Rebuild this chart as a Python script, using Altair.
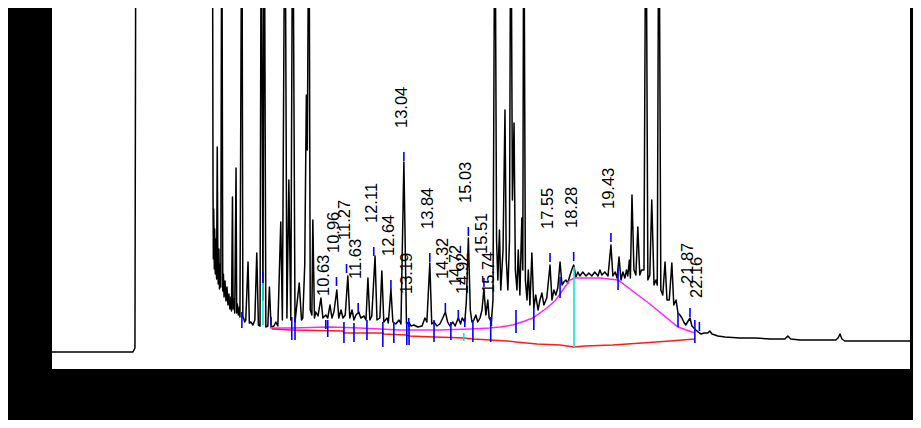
import altair as alt
import pandas as pd

# ---- chromatogram trace (retention time in min, detector signal in arbitrary units) ----
trace_time = [2.18, 4.68, 4.74, 4.77,
              7.11, 7.13, 7.15, 7.16, 7.17, 7.19, 7.20, 7.22, 7.24, 7.26, 7.28, 7.30, 7.31, 7.33, 7.35, 7.37, 7.39,
              7.42, 7.45, 7.47, 7.49, 7.52, 7.55, 7.58, 7.61, 7.64, 7.67, 7.70, 7.72, 7.75, 7.77, 7.79, 7.82, 7.86,
              7.88, 7.90, 7.93, 7.96, 7.98, 8.04, 8.07, 8.09,
              8.13, 8.16, 8.23, 8.27, 8.32, 8.38, 8.44, 8.50, 8.55, 8.60, 8.64,
              8.69, 8.73, 8.78, 8.84, 8.89, 8.94, 9.03, 9.09, 9.15, 9.24, 9.29, 9.37, 9.43, 9.49, 9.55, 9.61, 9.68, 9.81,
              9.88, 9.92, 9.98, 10.03, 10.06, 10.11, 10.15, 10.20, 10.23, 10.28, 10.32, 10.39, 10.48, 10.54, 10.63, 10.69,
              10.76, 10.82, 10.88, 10.97, 11.03, 11.10, 11.16, 11.23, 11.31, 11.37, 11.44, 11.50, 11.56, 11.65, 11.71,
              11.81, 11.87, 11.93, 11.99, 12.05, 12.15, 12.21, 12.30, 12.36, 12.42, 12.52, 12.56, 12.64, 12.70, 12.79,
              12.89, 12.95, 13.04, 13.12, 13.19, 13.26, 13.35, 13.47, 13.60, 13.69, 13.75, 13.84, 13.90, 13.97, 14.06,
              14.15, 14.24, 14.32, 14.39, 14.46, 14.55, 14.62, 14.72, 14.79, 14.84, 14.92, 14.97, 15.03, 15.09, 15.14,
              15.20, 15.26, 15.32, 15.39, 15.45, 15.51, 15.57, 15.63, 15.67, 15.74, 15.79, 15.85, 15.90, 15.94, 15.99,
              16.03, 16.10, 16.16, 16.20, 16.25, 16.30, 16.34, 16.39, 16.44, 16.48, 16.53, 16.57, 16.62, 16.68, 16.71,
              16.74, 16.79, 16.84, 16.88, 16.93, 16.99, 17.05, 17.11, 17.18, 17.24, 17.30, 17.36, 17.45, 17.55, 17.61,
              17.67, 17.73, 17.79, 17.86, 17.92, 17.98, 18.04, 18.10, 18.16, 18.22, 18.28, 18.35, 18.41, 18.47, 18.56,
              18.66, 18.75, 18.84, 18.93, 19.03, 19.09, 19.15, 19.24, 19.34, 19.43, 19.49, 19.56, 19.62, 19.68, 19.74,
              19.80, 19.86, 19.91, 19.95, 20.00, 20.03, 20.08, 20.14, 20.20, 20.26, 20.32, 20.37, 20.45, 20.51, 20.57,
              20.63, 20.69, 20.76, 20.82, 20.86, 20.91, 20.97, 21.03, 21.10, 21.16, 21.23, 21.31, 21.37, 21.44, 21.50,
              21.56, 21.62, 21.68, 21.74, 21.87, 21.93, 21.99, 22.05, 22.16, 22.22, 22.30, 22.42, 22.48, 22.55, 22.73,
              22.95, 23.41, 23.87, 24.34, 24.80, 24.89, 24.98, 25.26, 25.73, 26.37, 26.44, 26.50, 26.56, 26.65, 27.42,
              28.04, 28.66]
trace_signal = [17, 17, 21, 520,
                520, 520, 175, 110, 160, 100, 140, 95, 130, 90, 222, 100, 85, 120, 80, 105, 82,
                520, 78, 95, 72, 88, 68, 82, 64, 75, 60, 72, 58, 172, 60, 70, 56, 201,
                56, 65, 54, 62, 52, 520, 52, 51,
                47, 49, 107, 46, 47, 44, 49, 116, 44, 43, 520,
                69, 520, 42, 43, 82, 42, 43, 47, 43, 147, 49, 520, 51, 189, 49, 520, 47, 86,
                49, 51, 104, 274, 219, 520, 59, 54, 149, 51, 57, 53, 71, 51, 54, 51,
                64, 51, 57, 79, 51, 59, 51, 54, 93, 51, 59, 49, 54, 57, 51,
                53, 49, 91, 49, 53, 113, 49, 51, 98, 47, 51, 46, 80, 47, 45,
                49, 45, 207, 45, 47, 43, 44, 42, 43, 51, 47, 106, 45, 47, 43,
                45, 51, 57, 47, 43, 47, 43, 51, 45, 51, 47, 69, 131, 59, 47,
                49, 54, 47, 51, 59, 80, 54, 69, 51, 47, 69, 520, 129, 89, 139,
                79, 119, 259, 109, 79, 129, 520, 169, 246, 99, 79, 119, 74, 151, 99,
                520, 89, 69, 99, 64, 116, 61, 74, 59, 69, 76, 64, 71, 104, 69,
                79, 74, 81, 107, 84, 87, 89, 86, 93, 99, 104, 92, 97, 93, 97,
                93, 96, 93, 97, 93, 99, 94, 97, 93, 124, 93, 97, 91, 112, 89,
                97, 91, 99, 93, 109, 91, 174, 99, 94, 142, 94, 99, 99, 520, 89,
                94, 169, 84, 89, 84, 520, 79, 74, 107, 69, 69, 106, 64, 69, 56,
                54, 51, 47, 44, 51, 43, 41, 39, 36, 35, 36, 36, 38, 35, 33,
                32, 31, 31, 30, 30, 33, 30, 29, 29, 29, 31, 35, 30, 28, 28,
                28, 28]

# ---- integrated peaks: labels, retention times, marker heights ----
peak_labels = ["10.63", "10.96", "11.27", "11.63", "12.11", "12.64", "13.04", "13.19", "13.84", "14.32",
               "14.72", "14.92", "15.03", "15.51", "15.74", "17.55", "18.28", "19.43", "21.87", "22.16"]
peak_times = [10.63, 10.96, 11.27, 11.63, 12.11, 12.64, 13.04, 13.19, 13.84, 14.32,
              14.72, 14.92, 15.03, 15.51, 15.74, 17.55, 18.28, 19.43, 21.87, 22.16]
peak_marker = [49, 92, 105, 66, 122, 89, 217, 51, 116, 66,
               59, 51, 142, 91, 52, 116, 117, 136, 61, 47]

# ---- peak boundary markers (blue) ----
split_time = [8.04, 8.69, 8.94, 9.58, 9.68, 10.69, 11.19, 11.50, 11.90, 12.39, 12.73, 13.13, 13.20,
              13.97, 14.49, 15.17, 15.72, 16.50, 17.05, 17.86, 19.65, 21.50, 22.02]
split_top = [57, 97, 52, 52, 52, 49, 47, 46, 49, 47, 47, 47, 47, 49, 47, 49, 52, 59, 62, 92, 101, 56, 49]
split_bottom = [41, 86, 44, 29, 29, 32, 26, 27, 29, 22, 26, 24, 24, 27, 29, 27, 27, 36, 39, 71, 79, 42, 26]

# ---- drop lines (cyan) ----
drop_time = [8.69, 14.89, 18.29]
drop_top = [86, 36, 102]
drop_bottom = [44, 28, 22]

# ---- baselines ----
red_time = [8.97, 9.58, 11.16, 11.19, 12.39, 12.42, 13.13, 13.20, 13.97, 14.49, 14.89, 15.17, 15.72, 16.22,
            16.50, 17.15, 17.86, 18.29, 18.63, 19.49, 20.39, 21.25, 22.02]
red_signal = [40, 39, 38, 36, 36, 35, 34, 33, 32, 31.5, 31, 30, 29, 28, 27, 25, 24, 22, 23, 24, 26, 28, 30]

mag_time = [8.90, 9.58, 10.76, 11.68, 12.92, 14.15, 15.08, 15.69, 16.00, 16.40, 16.77, 17.02, 17.45, 17.70,
            17.86, 18.01, 18.16, 18.32, 19.09, 19.65, 20.63, 21.50, 22.02]
mag_signal = [41, 41, 42, 41, 39, 39, 40, 41, 42, 44, 48, 51, 61, 68, 75, 82, 89, 91, 91, 89, 65, 42, 36]

# ---------------------------------------------------------------------------
trace_df = pd.DataFrame({"t": trace_time, "s": trace_signal})
peaks_df = pd.DataFrame({"t": peak_times, "top": peak_marker, "label": peak_labels})
split_df = pd.DataFrame({"t": split_time, "top": split_top, "bot": split_bottom})
drop_df = pd.DataFrame({"t": drop_time, "top": drop_top, "bot": drop_bottom})
red_df = pd.DataFrame({"t": red_time, "s": red_signal})
mag_df = pd.DataFrame({"t": mag_time, "s": mag_signal})

xs = alt.Scale(domain=[2.18, 28.66], nice=False, zero=False)
ys = alt.Scale(domain=[0, 361], nice=False, zero=False)


def X():
    return alt.X("t:Q", scale=xs, axis=None)


trace = alt.Chart(trace_df).mark_line(color="black", strokeWidth=1.5, clip=True, strokeJoin="round").encode(
    x=X(), y=alt.Y("s:Q", scale=ys, axis=None), order="t:Q")

red = alt.Chart(red_df).mark_line(color="#ff1a1a", strokeWidth=1.5, clip=True).encode(
    x=X(), y=alt.Y("s:Q", scale=ys, axis=None))

mag = alt.Chart(mag_df).mark_line(color="#ff22ff", strokeWidth=1.5, clip=True).encode(
    x=X(), y=alt.Y("s:Q", scale=ys, axis=None))

splits = alt.Chart(split_df).mark_rule(color="#0000ff", strokeWidth=1.6).encode(
    x=X(), y=alt.Y("top:Q", scale=ys, axis=None), y2="bot:Q")

drops = alt.Chart(drop_df).mark_rule(color="#00e8e8", strokeWidth=1.6).encode(
    x=X(), y=alt.Y("top:Q", scale=ys, axis=None), y2="bot:Q")

ticks = alt.Chart(peaks_df).transform_calculate(bot="datum.top - 9").mark_rule(
    color="#0000ff", strokeWidth=1.6).encode(
    x=X(), y=alt.Y("top:Q", scale=ys, axis=None), y2="bot:Q")

labels = alt.Chart(peaks_df).mark_text(
    angle=270, align="left", baseline="middle", dx=24, dy=-2,
    fontSize=16.5, font="Liberation Sans", color="black").encode(
    x=X(), y=alt.Y("top:Q", scale=ys, axis=None), text="label:N")

chart = alt.layer(trace, mag, red, drops, splits, ticks, labels).properties(
    width=858, height=361,
    padding={"left": 44, "top": 0, "right": 3, "bottom": 51},
    autosize=alt.AutoSizeParams(type="none"),
).configure(background="black").configure_view(fill="white", strokeWidth=0)

chart.save("out.html", embed_options={"renderer": "svg", "actions": False})
